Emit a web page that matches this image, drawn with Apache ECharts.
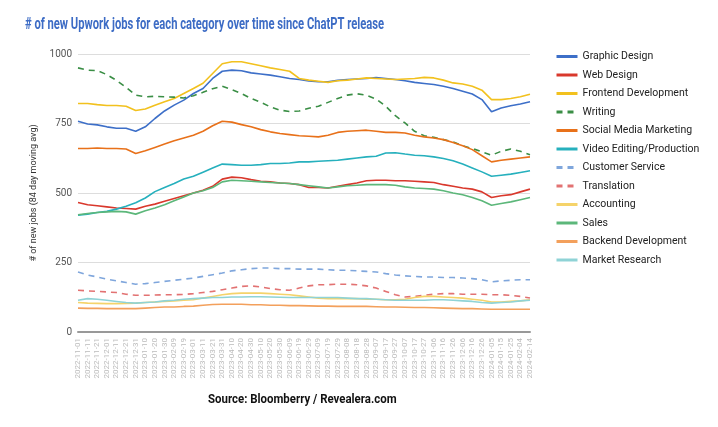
<!DOCTYPE html>
<html>
<head>
<meta charset="utf-8">
<script src="https://cdn.jsdelivr.net/npm/echarts@6/dist/echarts.min.js"></script>
<style>
    html, body { margin: 0; padding: 0; background: #fff; }
    #chart { width: 718px; height: 427px; }
</style>
</head>
<body>
<div id="chart"></div>
<script>
// tick labels, one every 10 days
const dates = [
    '2022-11-01', '2022-11-11', '2022-11-21', '2022-12-01', '2022-12-11', '2022-12-21', '2022-12-31',
    '2023-01-10', '2023-01-20', '2023-01-30', '2023-02-09', '2023-02-19', '2023-03-01', '2023-03-11',
    '2023-03-21', '2023-03-31', '2023-04-10', '2023-04-20', '2023-04-30', '2023-05-10', '2023-05-20',
    '2023-05-30', '2023-06-09', '2023-06-19', '2023-06-29', '2023-07-09', '2023-07-19', '2023-07-29',
    '2023-08-08', '2023-08-18', '2023-08-28', '2023-09-07', '2023-09-17', '2023-09-27', '2023-10-07',
    '2023-10-17', '2023-10-27', '2023-11-06', '2023-11-16', '2023-11-26', '2023-12-06', '2023-12-16',
    '2023-12-26', '2024-01-05', '2024-01-15', '2024-01-25', '2024-02-04', '2024-02-14'
]

const graphicDesign = [758, 748, 745, 738, 733, 733, 722, 738, 768, 795, 816, 834, 858, 876, 912, 938,
    942, 940, 932, 928, 924, 918, 912, 908, 903, 900, 900, 905, 908, 910, 912, 915,
    912, 908, 904, 898, 894, 890, 884, 876, 866, 856, 836, 792, 806, 814, 820, 828]
const webDesign = [466, 458, 454, 450, 446, 444, 442, 452, 460, 470, 480, 490, 500, 510, 524, 550,
    557, 555, 548, 542, 540, 536, 534, 530, 520, 520, 518, 524, 530, 536, 544, 546,
    546, 544, 544, 542, 540, 538, 530, 524, 518, 514, 504, 484, 490, 494, 504, 514]
const frontend = [822, 822, 818, 815, 815, 812, 797, 802, 816, 828, 840, 858, 876, 895, 930, 965,
    972, 972, 965, 958, 950, 944, 938, 912, 906, 902, 898, 904, 906, 910, 914, 912,
    910, 908, 910, 912, 916, 914, 906, 896, 892, 884, 870, 836, 836, 840, 846, 855]
const writing = [950, 942, 940, 926, 905, 880, 852, 846, 848, 846, 845, 842, 850, 862, 875, 884,
    872, 858, 840, 826, 810, 798, 793, 795, 805, 812, 826, 840, 852, 857, 852, 838,
    812, 778, 752, 722, 706, 700, 692, 684, 670, 660, 648, 636, 650, 658, 650, 638]
const socialMedia = [660, 660, 662, 660, 660, 658, 642, 652, 664, 676, 688, 698, 708, 722, 742, 758,
    755, 746, 738, 728, 720, 714, 710, 706, 704, 702, 708, 718, 722, 724, 726, 722,
    718, 718, 716, 708, 702, 698, 692, 682, 670, 656, 634, 612, 618, 622, 626, 630]
const videoEditing = [420, 424, 430, 434, 442, 452, 465, 482, 505, 520, 534, 550, 560, 575, 590, 604,
    602, 600, 600, 602, 606, 606, 608, 612, 612, 614, 616, 618, 622, 626, 630, 632,
    644, 645, 640, 636, 634, 630, 624, 616, 604, 590, 576, 560, 564, 568, 574, 580]
const customerService = [216, 205, 198, 190, 184, 178, 172, 174, 178, 182, 186, 190, 194, 200, 206, 212,
    220, 224, 228, 230, 230, 228, 228, 226, 226, 226, 224, 222, 222, 220, 218, 216,
    210, 205, 202, 200, 198, 198, 196, 196, 194, 192, 188, 180, 184, 186, 188, 188]
const translation = [150, 148, 146, 144, 142, 136, 132, 132, 133, 134, 134, 135, 138, 142, 146, 152,
    158, 164, 166, 162, 156, 152, 150, 158, 166, 170, 170, 172, 172, 170, 166, 158,
    146, 134, 126, 128, 132, 136, 138, 138, 136, 136, 136, 134, 134, 132, 128, 122]
const accounting = [106, 104, 103, 102, 102, 103, 104, 106, 108, 110, 112, 114, 116, 122, 128, 134,
    138, 140, 140, 140, 138, 136, 134, 130, 126, 122, 120, 120, 120, 120, 118, 118,
    116, 116, 118, 124, 128, 128, 126, 124, 122, 118, 114, 108, 108, 110, 112, 116]
const sales = [422, 426, 430, 432, 434, 432, 424, 436, 446, 458, 472, 486, 500, 508, 520, 540,
    546, 544, 542, 540, 538, 536, 534, 530, 526, 522, 518, 522, 526, 528, 530, 530,
    530, 528, 522, 518, 516, 514, 508, 500, 494, 484, 472, 456, 462, 468, 476, 484]
const backend = [86, 85, 85, 84, 84, 84, 84, 86, 88, 90, 90, 92, 93, 96, 99, 100,
    100, 100, 98, 98, 96, 96, 95, 95, 94, 93, 93, 92, 92, 92, 92, 91,
    90, 90, 89, 88, 88, 87, 86, 85, 84, 84, 83, 82, 82, 82, 82, 82]
const marketResearch = [114, 120, 118, 114, 110, 106, 104, 106, 108, 112, 114, 118, 120, 122, 124, 124,
    126, 126, 127, 127, 126, 125, 124, 124, 124, 124, 124, 124, 122, 120, 120, 118,
    116, 114, 114, 114, 114, 116, 116, 114, 112, 110, 106, 104, 106, 108, 112, 114]

const categories = ['Graphic Design', 'Web Design', 'Frontend Development', 'Writing',
    'Social Media Marketing', 'Video Editing/Production', 'Customer Service', 'Translation',
    'Accounting', 'Sales', 'Backend Development', 'Market Research']
const values = [graphicDesign, webDesign, frontend, writing, socialMedia, videoEditing,
    customerService, translation, accounting, sales, backend, marketResearch]
const colors = ['#3d6fc8', '#d9382c', '#f2c11e', '#3a8e45', '#e8711a', '#26b0bd',
    '#7fa6dc', '#e27272', '#f5d36a', '#5cb77a', '#f3a05c', '#8fd3d6']
const dashed = ['Writing', 'Customer Service', 'Translation']

let chart = echarts.init(document.getElementById('chart'))

let series = categories.map(function (name, i) {
    return {
        name: name,
        type: 'line',
        data: values[i],
        symbol: 'none',
        lineStyle: {
            width: 1.6,
            color: colors[i],
            type: dashed.indexOf(name) >= 0 ? [6, 5] : 'solid'
        },
        itemStyle: { color: colors[i] }
    }
})

chart.setOption({
    animation: false,
    color: colors,
    textStyle: { fontFamily: 'Roboto, sans-serif' },
    // title and source are squeezed sideways, the original uses a condensed face
    graphic: [
        {
            type: 'text',
            x: 25,
            y: 17,
            scaleX: 0.7,
            style: {
                text: '# of new Upwork jobs for each category over time since ChatPT release',
                fill: '#3d6cc5',
                font: 'bold 16px Roboto',
                textVerticalAlign: 'top'
            }
        },
        {
            type: 'text',
            x: 208,
            y: 393,
            scaleX: 0.88,
            style: {
                text: 'Source: Bloomberry / Revealera.com',
                fill: '#111',
                font: 'bold 13px Roboto',
                textVerticalAlign: 'top'
            }
        }
    ],
    legend: {
        orient: 'vertical',
        left: 555,
        top: 51,
        padding: 0,
        itemWidth: 21,
        itemHeight: 10,
        itemGap: 7.5,
        itemStyle: { opacity: 0 },
        lineStyle: { width: 3 },
        textStyle: { fontSize: 10.5, color: '#222' },
        data: categories
    },
    grid: {
        left: 78,
        right: 188,
        top: 54,
        bottom: 95
    },
    xAxis: {
        type: 'category',
        boundaryGap: false,
        data: dates,
        axisLine: { lineStyle: { color: '#999', width: 2 } },
        axisTick: { show: false },
        axisLabel: {
            interval: 0,
            rotate: 90,
            fontSize: 8,
            color: '#bbb',
            margin: 6
        }
    },
    yAxis: {
        type: 'value',
        min: 0,
        max: 1000,
        interval: 250,
        name: '# of new jobs (84 day moving avg)',
        nameLocation: 'middle',
        nameGap: 36,
        nameTextStyle: { fontSize: 9, color: '#333' },
        axisLine: { show: false },
        axisTick: { show: false },
        axisLabel: {
            fontSize: 10,
            color: '#555',
            margin: 6,
            formatter: function (v) { return String(v) }
        },
        splitLine: { lineStyle: { color: '#ddd' } }
    },
    series: series
})
</script>
</body>
</html>
